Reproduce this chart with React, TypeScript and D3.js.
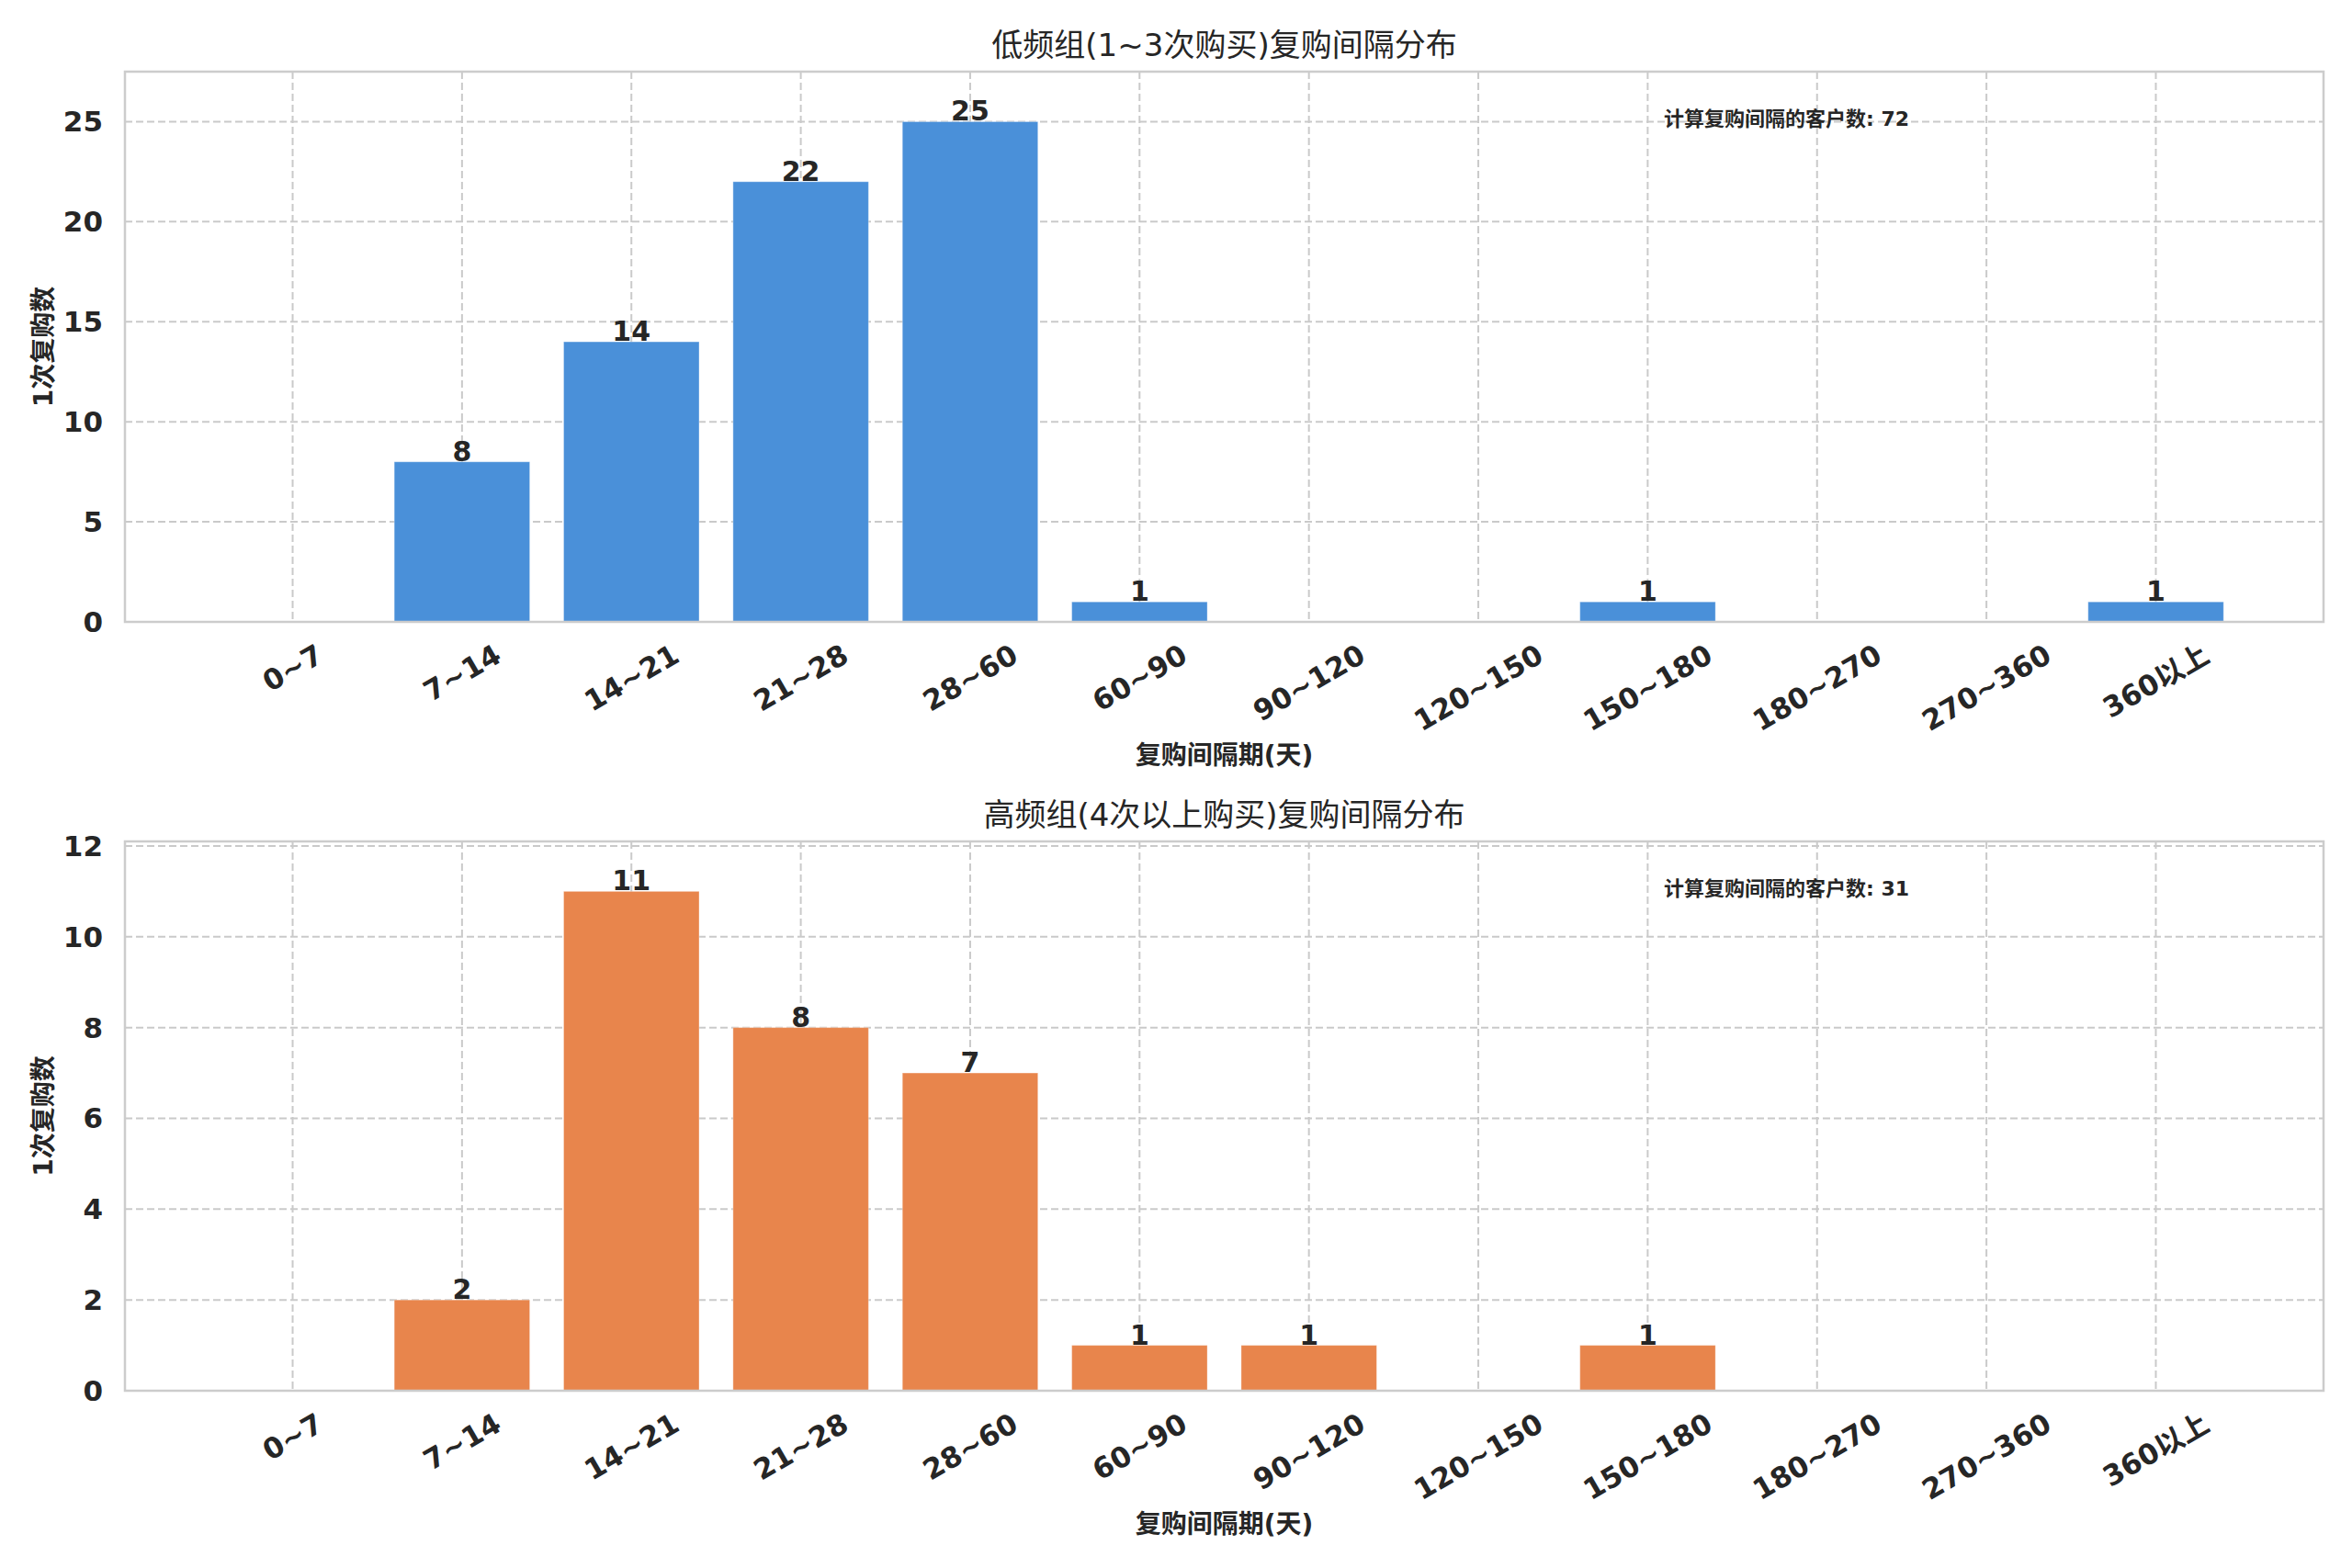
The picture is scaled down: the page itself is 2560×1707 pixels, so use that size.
import React, { useRef, useEffect } from "react";
import * as d3 from "d3";

// interval buckets (days)
const CATEGORIES = [
  "0~7", "7~14", "14~21", "21~28", "28~60", "60~90",
  "90~120", "120~150", "150~180", "180~270", "270~360", "360以上",
];
const LOW_COUNTS = [0, 8, 14, 22, 25, 1, 0, 0, 1, 0, 0, 1];
const HIGH_COUNTS = [0, 2, 11, 8, 7, 1, 1, 0, 1, 0, 0, 0];
const LOW_TICKS = [0, 5, 10, 15, 20, 25];
const HIGH_TICKS = [0, 2, 4, 6, 8, 10, 12];
const LOW_TITLE = "低频组(1~3次购买)复购间隔分布";
const HIGH_TITLE = "高频组(4次以上购买)复购间隔分布";
const LOW_NOTE = "计算复购间隔的客户数: 72";
const HIGH_NOTE = "计算复购间隔的客户数: 31";
const X_LABEL = "复购间隔期(天)";
const Y_LABEL = "1次复购数";

const W = 2560;
const H = 1707;
const FONT = "'DejaVu Sans', 'Noto Sans CJK SC', sans-serif";
const INK = "#262626";

export default function App() {
  const svgRef = useRef<SVGSVGElement>(null);

  useEffect(() => {
    if (!svgRef.current) return;
    document.body.style.margin = "0";
    const svg = d3.select(svgRef.current);
    svg.selectAll("*").remove();

    svg.append("rect").attr("width", W).attr("height", H).attr("fill", "#fff");

    const left = 136;
    const right = 2529;

    const panels = [
      { top: 78, bottom: 677, counts: LOW_COUNTS, ticks: LOW_TICKS, ymax: 27.5, color: "#4a90d9", title: LOW_TITLE, note: LOW_NOTE },
      { top: 916, bottom: 1514, counts: HIGH_COUNTS, ticks: HIGH_TICKS, ymax: 12.1, color: "#e8854c", title: HIGH_TITLE, note: HIGH_NOTE },
    ];

    const x = d3.scaleLinear().domain([-0.99, 11.99]).range([left, right]);
    const barW = x(0.8) - x(0);

    panels.forEach((p) => {
      const y = d3.scaleLinear().domain([0, p.ymax]).range([p.bottom, p.top]);
      const g = svg.append("g");

      // grid
      CATEGORIES.forEach((_, i) => {
        g.append("line")
          .attr("x1", x(i)).attr("x2", x(i))
          .attr("y1", p.top).attr("y2", p.bottom)
          .attr("stroke", "#cacaca").attr("stroke-width", 2)
          .attr("stroke-dasharray", "8,4");
      });
      p.ticks.forEach((t) => {
        g.append("line")
          .attr("x1", left).attr("x2", right)
          .attr("y1", y(t)).attr("y2", y(t))
          .attr("stroke", "#cacaca").attr("stroke-width", 2)
          .attr("stroke-dasharray", "8,4");
      });

      // bars
      p.counts.forEach((v, i) => {
        if (v <= 0) return;
        g.append("rect")
          .attr("x", x(i) - barW / 2)
          .attr("y", y(v))
          .attr("width", barW)
          .attr("height", y(0) - y(v))
          .attr("fill", p.color)
          .attr("stroke", "#ffffff")
          .attr("stroke-opacity", 0.35)
          .attr("stroke-width", 1);
        g.append("text")
          .attr("x", x(i))
          .attr("y", y(v) - 1)
          .attr("text-anchor", "middle")
          .style("font-family", FONT)
          .style("font-weight", "bold")
          .style("font-size", "30px")
          .style("fill", INK)
          .text(v);
      });

      // spines
      g.append("rect")
        .attr("x", left).attr("y", p.top)
        .attr("width", right - left).attr("height", p.bottom - p.top)
        .attr("fill", "none")
        .attr("stroke", "#cccccc").attr("stroke-width", 2.5);

      // y tick labels
      p.ticks.forEach((t) => {
        g.append("text")
          .attr("x", 112)
          .attr("y", y(t))
          .attr("text-anchor", "end")
          .attr("dominant-baseline", "central")
          .style("font-family", FONT)
          .style("font-weight", "bold")
          .style("font-size", "31px")
          .style("fill", INK)
          .text(t);
      });

      // x tick labels, rotated 30deg, top of rotated box below axis
      const fs = 31;
      const rad = (30 * Math.PI) / 180;
      CATEGORIES.forEach((c, i) => {
        const t = g.append("text")
          .attr("text-anchor", "middle")
          .attr("dominant-baseline", "central")
          .style("font-family", FONT)
          .style("font-weight", "bold")
          .style("font-size", `${fs}px`)
          .style("fill", INK)
          .text(c);
        const w = (t.node() as SVGTextElement).getComputedTextLength();
        const h = fs * 1.164;
        const boxH = w * Math.sin(rad) + h * Math.cos(rad);
        const cy = p.bottom + 17 + boxH / 2;
        t.attr("transform", `translate(${x(i)},${cy}) rotate(-30)`);
      });

      // title
      g.append("text")
        .attr("x", (left + right) / 2)
        .attr("y", p.top - 17)
        .attr("text-anchor", "middle")
        .style("font-family", FONT)
        .style("font-size", "34px")
        .style("fill", INK)
        .text(p.title);

      // x label
      g.append("text")
        .attr("x", (left + right) / 2)
        .attr("y", p.bottom + 155)
        .attr("text-anchor", "middle")
        .style("font-family", FONT)
        .style("font-weight", "bold")
        .style("font-size", "28px")
        .style("fill", INK)
        .text(X_LABEL);

      // y label
      g.append("text")
        .attr("transform", `translate(47,${(p.top + p.bottom) / 2}) rotate(-90)`)
        .attr("text-anchor", "middle")
        .attr("dominant-baseline", "central")
        .style("font-family", FONT)
        .style("font-weight", "bold")
        .style("font-size", "28px")
        .style("fill", INK)
        .text(Y_LABEL);

      // note
      g.append("text")
        .attr("x", left + 0.7 * (right - left))
        .attr("y", p.top + 59)
        .style("font-family", FONT)
        .style("font-weight", "bold")
        .style("font-size", "22px")
        .style("fill", INK)
        .text(p.note);
    });
  }, []);

  return <svg ref={svgRef} width={W} height={H} style={{ display: "block" }} />;
}
